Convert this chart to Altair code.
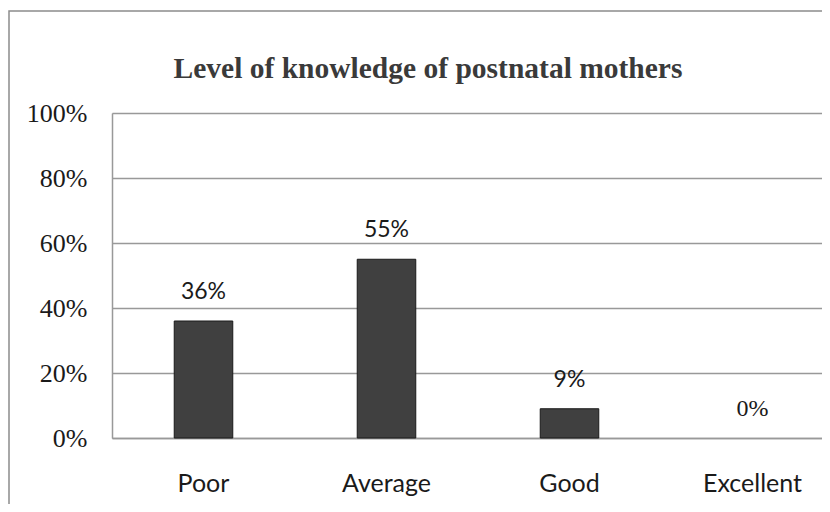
import altair as alt
import pandas as pd

categories = ["Poor", "Average", "Good", "Excellent"]
values = [0.36, 0.55, 0.09, 0.0]
y_ticks = [0, 0.2, 0.4, 0.6, 0.8, 1.0]
title_text = "Level of knowledge of postnatal mothers"

df = pd.DataFrame({"level": categories, "pct": values})

W, H = 710, 325
STEP = 183

x_enc = alt.X("level:N", sort=categories, title=None,
              scale=alt.Scale(range=[0, STEP * len(categories)], paddingInner=0.68, paddingOuter=0.34),
              axis=alt.Axis(labelAngle=0, labelFont="Lato", labelFontSize=25, labelColor="#1a1a1a",
                            labelPadding=33, ticks=False, domainColor="#999999", domainWidth=1.5,
                            grid=False))
y_enc = alt.Y("pct:Q", title=None,
              scale=alt.Scale(domain=[0, 1], nice=False),
              axis=alt.Axis(values=y_ticks, format=".0%", labelFont="Liberation Serif", labelFontSize=26,
                            labelColor="#1a1a1a", labelPadding=25, ticks=False, domainColor="#999999",
                            domainWidth=1.5, gridColor="#999999", gridWidth=1.5))

base = alt.Chart(df)

border = base.mark_rect(filled=False, stroke="#8c8c8c", strokeWidth=1.5, clip=False).encode(
    x=alt.value(-103), x2=alt.value(900), y=alt.value(-102), y2=alt.value(600)
).transform_filter(alt.datum.level == "Poor")

title = base.mark_text(font="Liberation Serif", fontSize=29.5, fontWeight="bold", color="#3a3a3a",
                       baseline="alphabetic", align="center").encode(
    x=alt.value(316), y=alt.value(-35), text=alt.value(title_text)
).transform_filter(alt.datum.level == "Poor")

bars = base.mark_bar(color="#404040", stroke="#1a1a1a", strokeWidth=1).encode(
    x=x_enc, y=y_enc
).transform_filter(alt.datum.pct > 0)

labels = base.mark_text(font="Lato", fontSize=23, color="#1a1a1a", dy=-29, baseline="middle").encode(
    x=alt.X("level:N", sort=categories),
    y="pct:Q",
    text=alt.Text("pct:Q", format=".0%"),
).transform_filter(alt.datum.pct > 0)

zero_labels = base.mark_text(font="Liberation Serif", fontSize=24, color="#1a1a1a", dy=-29,
                             baseline="middle").encode(
    x=alt.X("level:N", sort=categories),
    y="pct:Q",
    text=alt.Text("pct:Q", format=".0%"),
).transform_filter(alt.datum.pct == 0)

chart = alt.layer(border, title, bars, labels, zero_labels).properties(
    width=W, height=H,
    autosize=alt.AutoSizeParams(type="none"),
    padding={"left": 104, "top": 105, "right": 0, "bottom": 66},
).configure_view(stroke=None).configure(background="white")

chart.save("out.html", embed_options={"renderer": "svg", "actions": False})
